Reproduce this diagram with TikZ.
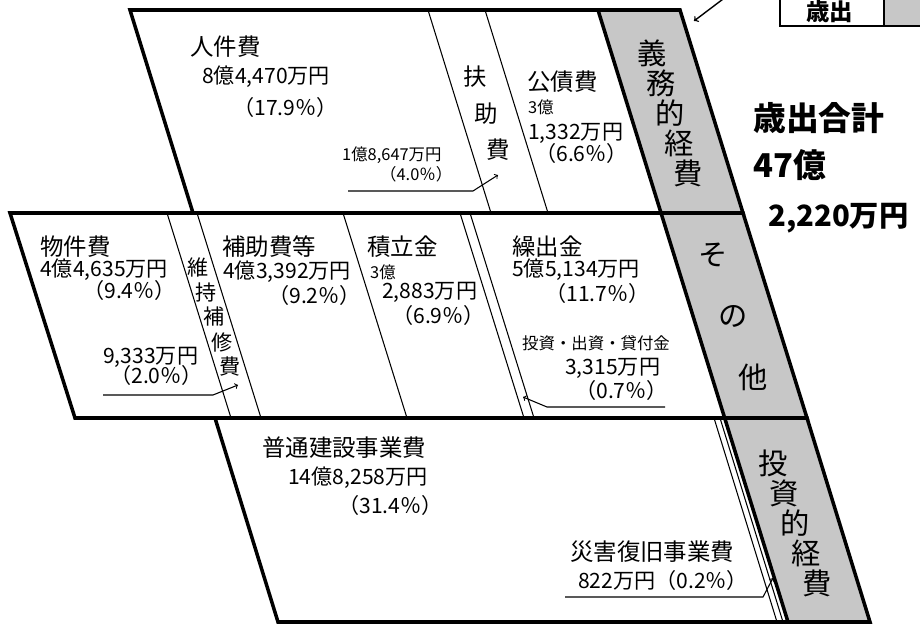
\documentclass[tikz,border=0pt]{standalone}
\usepackage{fontspec}
\setmainfont{Noto Sans CJK JP}
\usetikzlibrary{arrows}
\tikzset{
chart/.style={x=0.03cm,y=-0.03cm,line join=miter},
band/.style={draw,line width=3pt},
divider/.style={draw,line width=0.9pt},
shade/.style={fill=black!22},
itemname/.style={anchor=west,inner sep=0pt,font=\fontsize{20}{22}\selectfont},
amount/.style={anchor=west,inner sep=0pt,font=\fontsize{18}{20}\selectfont},
smallnum/.style={anchor=west,inner sep=0pt,font=\fontsize{14}{16}\selectfont},
colchar/.style={inner sep=0pt,font=\fontsize{#1}{#1}\selectfont},
colchar/.default={25},
total/.style={anchor=west,inner sep=0pt,font=\bfseries\fontsize{#1}{#1}\selectfont},
total/.default={28},
pointer/.style={->,>=to,line width=0.9pt},
}
\begin{document}
\begin{tikzpicture}[chart]
                    \useasboundingbox (0,0) rectangle (920,626);
                    \clip (0,0) rectangle (920,626);

                    \fill[shade] (598,10) -- (680,10) -- (870,622) -- (788,622) -- cycle;
                    \fill[shade] (884,-30) rectangle (940,26);
                    \draw[divider] (780,-30) rectangle (940,26);
                    \draw[divider] (884,-30) -- (884,26);
                    \node[total=20] (legend) at (806,12) {歳出};
                    \coordinate (corner) at (694,21);
                    \coordinate (legend tail) at (735,-10);
                    \draw[pointer,line width=1.2pt] (legend tail) -- (corner);

                    \draw[divider] (428,10) -- (491,213);
                    \draw[divider] (485,10) -- (548,213);
                    \draw[divider] (167,213) -- (231,418);
                    \draw[divider] (197,213) -- (261,418);
                    \draw[divider] (343,213) -- (407,418);
                    \draw[divider] (460,213) -- (524,418);
                    \draw[divider] (470,213) -- (534,418);
                    \draw[divider] (714,418) -- (777,622);
                    \draw[divider] (720,418) -- (783,622);

                    \draw[band] (130,10) -- (680,10) -- (743,213) -- (193,213) -- cycle;
                    \draw[band] (10,213) -- (743,213) -- (807,418) -- (75,418) -- cycle;
                    \draw[band] (215,418) -- (807,418) -- (870,622) -- (278,622) -- cycle;
                    \draw[band] (598,10) -- (788,622);

                    \node[itemname] (jinken) at (190,47) {人件費};
                    \node[amount] (jinken amt) at (202,77) {8億4,470万円};
                    \node[amount] (jinken pct) at (233,107) {（17.9％）};
                    \node[smallnum] (fujo amt) at (342,155) {1億8,647万円};
                    \node[smallnum] (fujo pct) at (380,174) {（4.0％）};
                    \foreach \c [count=\i from 0] in {扶,助,費}
                        \node[colchar=20] (fujo\i) at ({475+11.5*\i},{77+36.5*\i}) {\c};
                    \coordinate (fujo start) at (348,191);
                    \coordinate (fujo bend) at (473,191);
                    \coordinate (fujo tip) at (498,175);
                    \draw[pointer] (fujo start) -- (fujo bend) -- (fujo tip);
                    \node[itemname] (kousai) at (527,82) {公債費};
                    \node[smallnum] (kousai oku) at (528,107) {3億};
                    \node[amount] (kousai amt) at (528,133) {1,332万円};
                    \node[amount] (kousai pct) at (535,153) {（6.6％）};
                    \foreach \c [count=\i from 0] in {義,務,的,経,費}
                        \node[colchar] (gimu\i) at ({652+9*\i},{53+30*\i}) {\c};

                    \node[total] (sum) at (753,118) {歳出合計};
                    \node[total] (sum oku) at (753,165) {47億};
                    \node[total=25] (sum man) at (768,218) {2,220万円};

                    \node[itemname] (buken) at (40,247) {物件費};
                    \node[amount] (buken amt) at (40,270) {4億4,635万円};
                    \node[amount] (buken pct) at (83,290) {（9.4％）};
                    \node[amount] (iji amt) at (103,357) {9,333万円};
                    \node[amount] (iji pct) at (110,375) {（2.0％）};
                    \foreach \c [count=\i from 0] in {維,持,補,修,費}
                        \node[colchar=18] (iji\i) at ({198+8*\i},{267+25*\i}) {\c};
                    \coordinate (iji start) at (103,395);
                    \coordinate (iji bend) at (213,395);
                    \coordinate (iji tip) at (238,385);
                    \draw[pointer] (iji start) -- (iji bend) -- (iji tip);
                    \node[itemname] (hojo) at (222,247) {補助費等};
                    \node[amount] (hojo amt) at (223,272) {4億3,392万円};
                    \node[amount] (hojo pct) at (268,295) {（9.2％）};
                    \node[itemname] (tsumitate) at (367,247) {積立金};
                    \node[smallnum] (tsumitate oku) at (370,272) {3億};
                    \node[amount] (tsumitate amt) at (382,292) {2,883万円};
                    \node[amount] (tsumitate pct) at (392,315) {（6.9％）};
                    \node[itemname] (kuridashi) at (512,247) {繰出金};
                    \node[amount] (kuridashi amt) at (512,270) {5億5,134万円};
                    \node[amount] (kuridashi pct) at (545,293) {（11.7％）};
                    \node[smallnum] (kashi) at (522,343) {投資・出資・貸付金};
                    \node[amount] (kashi amt) at (565,368) {3,315万円};
                    \node[amount] (kashi pct) at (575,390) {（0.7％）};
                    \coordinate (kashi start) at (665,407);
                    \coordinate (kashi bend) at (547,407);
                    \coordinate (kashi tip) at (523,397);
                    \draw[pointer] (kashi start) -- (kashi bend) -- (kashi tip);
                    \foreach \c [count=\i from 0] in {そ,の,他}
                        \node[colchar] (sonota\i) at ({713+20*\i},{255+61*\i}) {\c};

                    \node[itemname] (futsu) at (262,448) {普通建設事業費};
                    \node[amount] (futsu amt) at (288,478) {14億8,258万円};
                    \node[amount] (futsu pct) at (338,505) {（31.4％）};
                    \node[itemname] (saigai) at (570,552) {災害復旧事業費};
                    \node[amount] (saigai amt) at (578,580) {822万円（0.2％）};
                    \coordinate (saigai start) at (565,597);
                    \coordinate (saigai bend) at (763,597);
                    \coordinate (saigai tip) at (773,578);
                    \draw[pointer] (saigai start) -- (saigai bend) -- (saigai tip);
                    \foreach \c [count=\i from 0] in {投,資,的,経,費}
                        \node[colchar] (toushi\i) at ({773+11*\i},{463+30*\i}) {\c};

                \end{tikzpicture}
\end{document}
